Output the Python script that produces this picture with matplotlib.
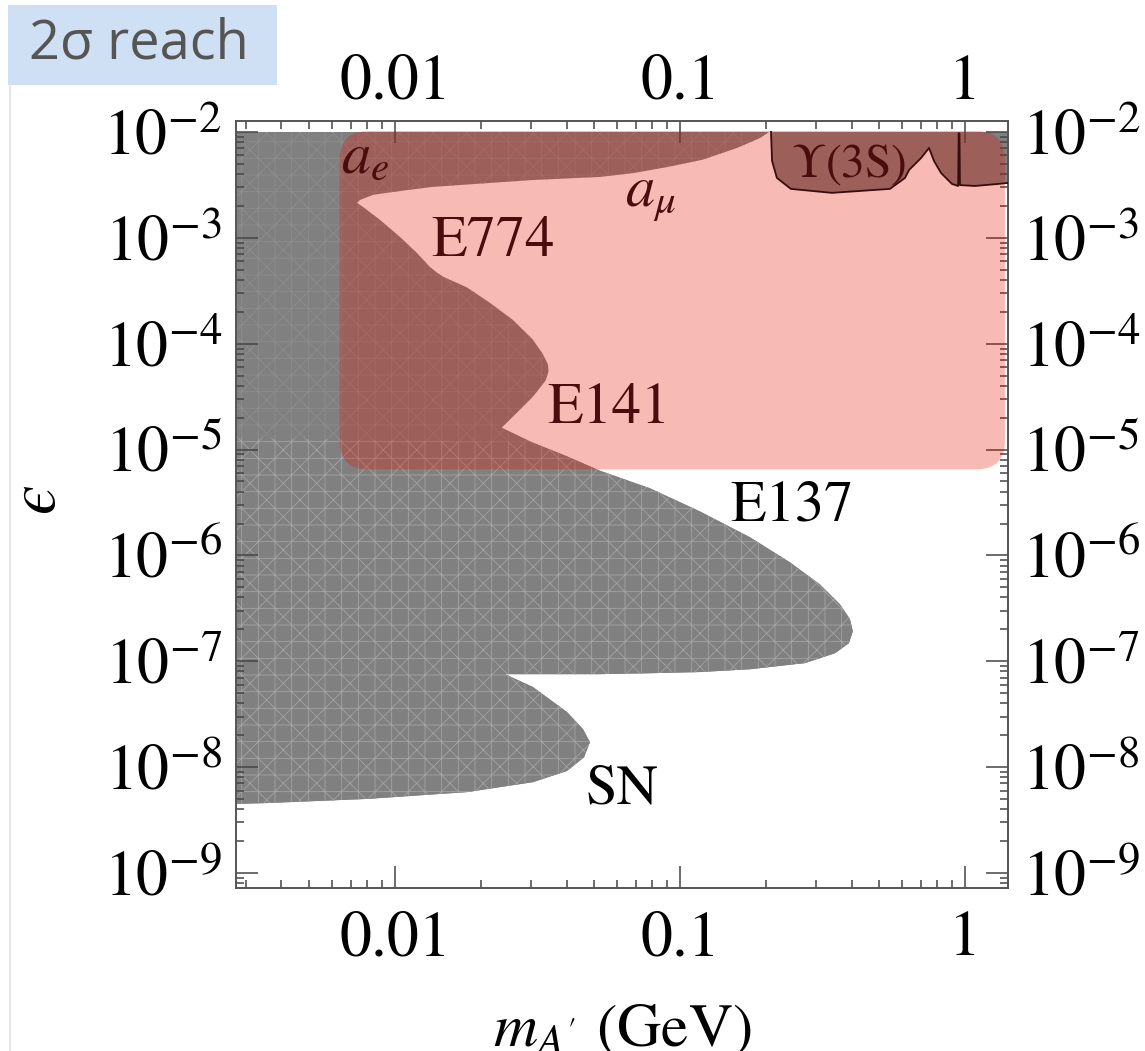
import matplotlib
matplotlib.use("Agg")
import matplotlib.pyplot as plt
from matplotlib.patches import Polygon, FancyBboxPatch, Rectangle
from matplotlib.lines import Line2D
from matplotlib.ticker import FixedLocator, FixedFormatter, LogLocator, NullFormatter

plt.rcParams['font.family'] = ['STIXGeneral', 'DejaVu Serif']
plt.rcParams['mathtext.fontset'] = 'stix'
plt.rcParams['hatch.linewidth'] = 0.6

# ---------------- data ----------------
x_limits = (0.00277, 1.415)          # m_A' (GeV)
y_limits = (7.2e-10, 0.0127)         # epsilon

x_ticks = [0.01, 0.1, 1]
x_ticklabels = ['0.01', '0.1', '1']
y_ticks = [1e-9, 1e-8, 1e-7, 1e-6, 1e-5, 1e-4, 1e-3, 1e-2]
y_ticklabels = [r'$10^{-9}$', r'$10^{-8}$', r'$10^{-7}$', r'$10^{-6}$',
                r'$10^{-5}$', r'$10^{-4}$', r'$10^{-3}$', r'$10^{-2}$']

# excluded region outline, built from its pieces (clockwise)
top_mass = [0.0027, 0.2052]
top_eps = [0.01, 0.01]
amu_mass = [0.1910, 0.1585, 0.1194, 0.0908, 0.0690, 0.0524, 0.0305, 0.01359,
            0.01041, 0.00838, 0.00754, 0.00736]
amu_eps = [0.00878, 0.00706, 0.00545, 0.00468, 0.00410, 0.00376, 0.00352, 0.00303,
           0.00277, 0.00255, 0.00228, 0.00214]
e774_mass = [0.00772, 0.00886, 0.01041, 0.01194, 0.01327, 0.01403]
e774_eps = [0.00196, 0.00148, 0.00102, 7.2e-4, 5.3e-4, 4.7e-4]
e141_mass = [0.01473, 0.0179, 0.0215, 0.0259, 0.0305, 0.0330, 0.0344, 0.0346, 0.0338,
             0.0305, 0.0268, 0.0237]
e141_eps = [4.3e-4, 3.4e-4, 2.44e-4, 1.68e-4, 1.09e-4, 8.0e-5, 6.4e-5, 5.5e-5, 4.5e-5,
            3.16e-5, 2.23e-5, 1.61e-5]
e137_mass = [0.0305, 0.0402, 0.0524, 0.0785, 0.1175, 0.1762, 0.243, 0.310, 0.364,
             0.3945, 0.404, 0.3915, 0.350, 0.2745, 0.1762, 0.1175, 0.0785, 0.0524,
             0.0323, 0.0243]
e137_eps = [1.16e-5, 8.6e-6, 6.3e-6, 4.3e-6, 2.6e-6, 1.48e-6, 8.6e-7, 5.3e-7, 3.45e-7,
            2.5e-7, 1.92e-7, 1.48e-7, 1.19e-7, 9.6e-8, 8.4e-8, 7.9e-8, 7.7e-8, 7.55e-8,
            7.55e-8, 7.55e-8]
sn_mass = [0.0305, 0.0402, 0.0457, 0.0483, 0.0461, 0.0402, 0.0305, 0.0179, 0.0080,
           0.00356, 0.0027]
sn_eps = [5.7e-8, 3.3e-8, 2.28e-8, 1.72e-8, 1.24e-8, 9.2e-9, 7.2e-9, 5.8e-9, 5.0e-9,
          4.57e-9, 4.48e-9]
e137_left_eps = 1.3e-5   # where the E137/SN textured part meets the left edge

# Upsilon(3S) (BaBar) region lower boundary
ups_mass = [0.2086, 0.2104, 0.2188, 0.2449, 0.3414, 0.5453, 0.6157, 0.6365, 0.7016,
            0.7477, 0.7785, 0.8238, 0.8997, 0.946, 0.950, 0.956, 0.960, 1.083,
            1.305, 1.415]
ups_eps = [0.01, 0.00532, 0.00368, 0.00290, 0.00266, 0.00290, 0.00368, 0.00438,
           0.00569, 0.00706, 0.00532, 0.00410, 0.00323, 0.00309, 0.0097, 0.0097,
           0.00315, 0.00309, 0.00323, 0.0033]

# projected 2-sigma reach box
reach_mass = (0.0064, 1.38)
reach_eps = (6.5e-6, 0.0102)

# region labels: text, mass, eps, colour, size
region_labels = [
    (r'$a_e$', 0.00785, 0.0041, '#4a0c0c', 42),
    (r'$a_\mu$', 0.0785, 0.0020, '#4a0c0c', 42),
    ('E774', 0.0221, 6.8e-4, '#4a0c0c', 42),
    ('E141', 0.0564, 1.80e-5, '#4a0c0c', 42),
    ('E137', 0.247, 2.14e-6, 'black', 42),
    ('SN', 0.0625, 4.48e-9, 'black', 41),
    (r'$\Upsilon$(3S)', 0.392, 3.76e-3, '#4a0c0c', 34),
]

# ---------------- figure ----------------
W, H = 1145, 1051
fig = plt.figure(figsize=(W / 100, H / 100), dpi=100)
ax = fig.add_axes([236 / W, 1 - 888 / H, 772 / W, 767 / H])
ax.set_xscale('log')
ax.set_yscale('log')
ax.set_xlim(*x_limits)
ax.set_ylim(*y_limits)

excl_mass = top_mass + amu_mass + e774_mass + e141_mass + e137_mass + sn_mass
excl_eps = top_eps + amu_eps + e774_eps + e141_eps + e137_eps + sn_eps
pts = list(zip(excl_mass, excl_eps))

ax.add_patch(Polygon(pts, closed=True, facecolor='#808080', edgecolor='none', zorder=1))
ax.add_patch(Polygon(pts, closed=True, facecolor='none', edgecolor='#8d8d8d',
                     linewidth=0, hatch='+x', zorder=1.4))
low_pts = ([(top_mass[0], e137_left_eps)] + list(zip(e137_mass, e137_eps))
           + list(zip(sn_mass, sn_eps)))
ax.add_patch(Polygon(low_pts, closed=True, facecolor='#808080', edgecolor='#a3a3a3',
                     linewidth=0, hatch='+x', zorder=1.5))

ups_fill = list(zip(ups_mass, ups_eps)) + [(ups_mass[-1], 0.01)]
ax.add_patch(Polygon(ups_fill, closed=True, facecolor='#808080', edgecolor='none', zorder=1))

# reach box with rounded corners (in axes coordinates)
to_axes = ax.transData + ax.transAxes.inverted()
p0 = to_axes.transform((reach_mass[0], reach_eps[0]))
p1 = to_axes.transform((reach_mass[1], reach_eps[1]))
box = FancyBboxPatch((p0[0], p0[1]), p1[0] - p0[0], p1[1] - p0[1],
                     boxstyle='round,pad=0,rounding_size=0.037',
                     transform=ax.transAxes, facecolor=(0.894, 0.067, 0.0),
                     alpha=0.29, edgecolor='none', zorder=3)
ax.add_patch(box)

ax.plot(ups_mass, ups_eps, color='#3a0c0c', lw=1.3, zorder=4)

for txt, mx, ey, col, fs in region_labels:
    ax.text(mx, ey, txt, color=col, fontsize=fs, ha='center', va='baseline', zorder=5)

# ticks
for side in ['top', 'bottom', 'left', 'right']:
    ax.spines[side].set_color('#555555')
    ax.spines[side].set_linewidth(1.4)

ax.xaxis.set_major_locator(FixedLocator(x_ticks))
ax.xaxis.set_major_formatter(FixedFormatter(x_ticklabels))
ax.xaxis.set_minor_locator(LogLocator(base=10, subs=range(2, 10), numticks=20))
ax.xaxis.set_minor_formatter(NullFormatter())
ax.yaxis.set_major_locator(FixedLocator(y_ticks))
ax.yaxis.set_major_formatter(FixedFormatter(y_ticklabels))
ax.yaxis.set_minor_locator(LogLocator(base=10, subs=range(2, 10), numticks=20))
ax.yaxis.set_minor_formatter(NullFormatter())

ax.tick_params(which='both', direction='in', top=True, right=True, bottom=True, left=True,
               color='#444444', width=1.1, zorder=6)
ax.tick_params(which='major', length=16)
ax.tick_params(which='minor', length=6)
ax.tick_params(axis='y', labelleft=True, labelright=True, labelsize=46, pad=10)
ax.tick_params(axis='x', labelbottom=True, labeltop=False, labelsize=46, pad=16)

sec = ax.secondary_xaxis('top')
sec.xaxis.set_major_locator(FixedLocator(x_ticks))
sec.xaxis.set_major_formatter(FixedFormatter(x_ticklabels))
sec.xaxis.set_minor_locator(FixedLocator([]))
sec.tick_params(axis='x', which='both', length=0, labelsize=46, pad=6)
sec.spines['top'].set_visible(False)

ax.set_ylabel('$\u03f5$', fontsize=48)
ax.yaxis.set_label_coords(-0.215, 0.506)
ax.set_xlabel(r"$m_{A'}$ (GeV)", fontsize=44)
ax.xaxis.set_label_coords(0.5, -0.150)

# "2 sigma reach" tag and slide border
fig.add_artist(Rectangle((8 / W, 1 - 85 / H), 269 / W, 80 / H, transform=fig.transFigure,
                         facecolor='#cfe0f5', edgecolor='none'))
fig.text(139 / W, 1 - 44 / H, '2σ reach', fontsize=39, color='#555555',
         family=['Open Sans', 'DejaVu Sans'], ha='center', va='center')
fig.add_artist(Line2D([10 / W, 10 / W], [0, 1 - 85 / H], transform=fig.transFigure,
                      color='#e6e6e6', lw=1.5))

fig.savefig('out.png', dpi=100)
